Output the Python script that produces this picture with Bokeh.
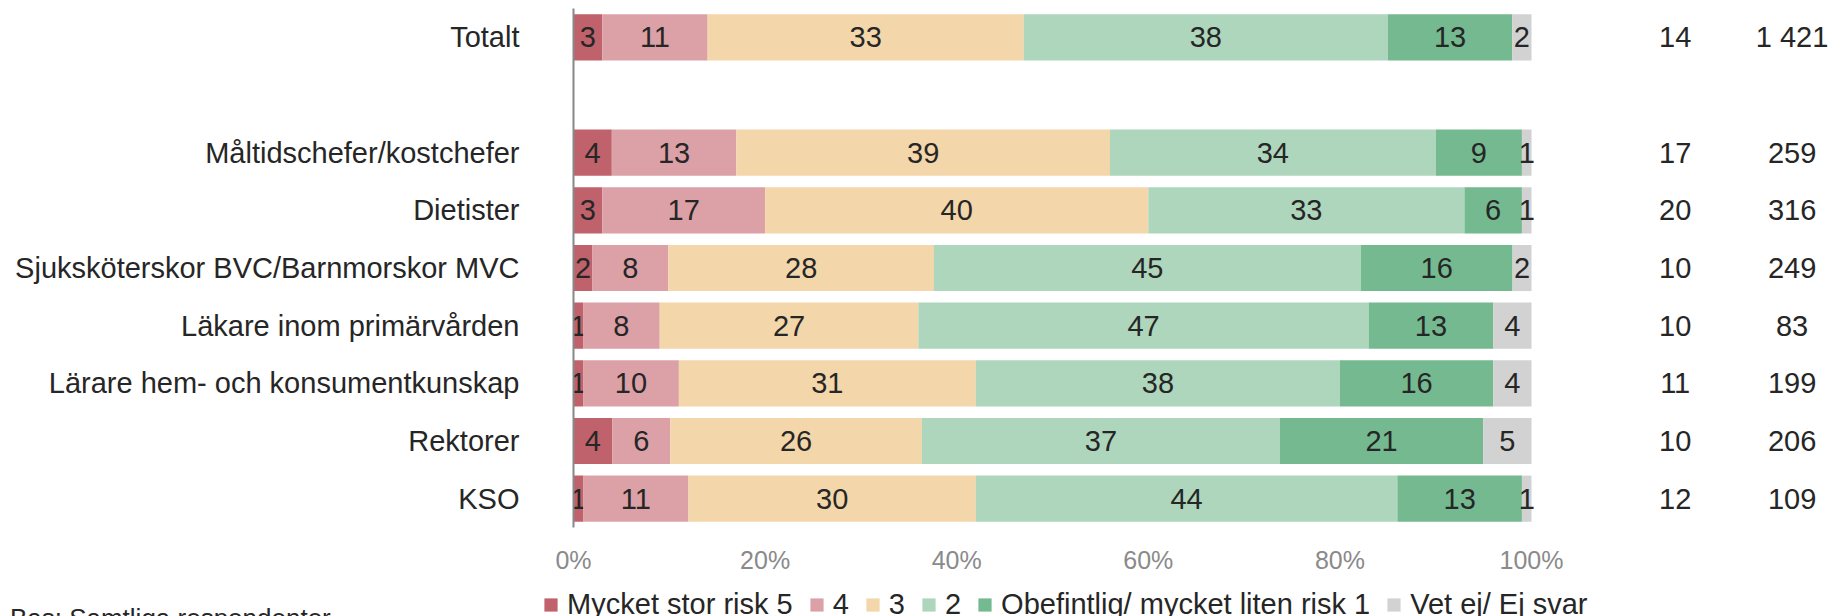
from bokeh.plotting import figure
from bokeh.layouts import column
from bokeh.models import (ColumnDataSource, FactorRange, Range1d, FixedTicker,
                          PrintfTickFormatter, Legend, LegendItem, Label)
from bokeh.core.properties import value
from bokeh.embed import file_html
from bokeh.resources import INLINE

# ---------------- data ----------------
categories = ["Totalt", " ", "Måltidschefer/kostchefer", "Dietister",
              "Sjuksköterskor BVC/Barnmorskor MVC", "Läkare inom primärvården",
              "Lärare hem- och konsumentkunskap", "Rektorer", "KSO"]
groups = ["Totalt", "Måltidschefer/kostchefer", "Dietister",
          "Sjuksköterskor BVC/Barnmorskor MVC", "Läkare inom primärvården",
          "Lärare hem- och konsumentkunskap", "Rektorer", "KSO"]
series_names = ["Mycket stor risk 5", "4", "3", "2",
                "Obefintlig/ mycket liten risk 1", "Vet ej/ Ej svar"]
risk5 = [3, 4, 3, 2, 1, 1, 4, 1]
risk4 = [11, 13, 17, 8, 8, 10, 6, 11]
risk3 = [33, 39, 40, 28, 27, 31, 26, 30]
risk2 = [38, 34, 33, 45, 47, 38, 37, 44]
risk1 = [13, 9, 6, 16, 13, 16, 21, 13]
vet_ej = [2, 1, 1, 2, 4, 4, 5, 1]
stor_risk = ["14", "17", "20", "10", "10", "11", "10", "12"]
antal = ["1 421", "259", "316", "249", "83", "199", "206", "109"]
tick_values = [0, 20, 40, 60, 80, 100]
footnote = "Bas: Samtliga respondenter"

colors = ["#C0626B", "#DBA1A7", "#F3D6AA", "#AED6BC", "#74B990", "#D2D2D2"]
FONT = "Liberation Sans"
TXT = "#262626"

series = [risk5, risk4, risk3, risk2, risk1, vet_ej]

W = 1843
H1 = 580
H2 = 36

p = figure(width=W, height=H1,
           y_range=FactorRange(*reversed(categories)),
           x_range=Range1d(0, 100 * (W - 573) / 958),
           output_backend="svg", toolbar_location=None,
           min_border_left=573, min_border_right=0,
           min_border_top=8, min_border_bottom=H1 - 8 - 519)
p.frame_align = False
p.outline_line_color = None
p.xgrid.visible = False
p.ygrid.visible = False
p.background_fill_color = "white"
p.border_fill_color = "white"

# stacked, normalised to 100 %
totals = [sum(s[i] for s in series) for i in range(len(groups))]
left = [0.0] * len(groups)
for k, s in enumerate(series):
    shares = [s[i] / totals[i] * 100 for i in range(len(groups))]
    right = [left[i] + shares[i] for i in range(len(groups))]
    src = ColumnDataSource(dict(y=groups, left=left, right=right,
                                mid=[(left[i] + right[i]) / 2 for i in range(len(groups))],
                                lab=[str(v) for v in s]))
    p.hbar(y="y", left="left", right="right", height=0.8, source=src,
           fill_color=colors[k], line_color=None)
    p.text(x="mid", y="y", text="lab", source=src, text_align="center",
           text_baseline="middle", text_font=value(FONT),
           text_font_size="29px", text_color=TXT)
    left = right

# right-hand columns
src2 = ColumnDataSource(dict(y=groups, a=stor_risk, b=antal))
p.text(x=115.0, y="y", text="a", source=src2, text_align="center",
       text_baseline="middle", text_font=value(FONT), text_font_size="29px",
       text_color=TXT)
p.text(x=127.2, y="y", text="b", source=src2, text_align="center",
       text_baseline="middle", text_font=value(FONT), text_font_size="29px",
       text_color=TXT)

# axes
p.yaxis.axis_line_color = "#888888"
p.yaxis.axis_line_width = 2
p.yaxis.major_tick_line_color = None
p.yaxis.minor_tick_line_color = None
p.yaxis.major_tick_out = 0
p.yaxis.major_tick_in = 0
p.yaxis.major_label_standoff = 54
p.yaxis.major_label_text_font = FONT
p.yaxis.major_label_text_font_size = "29px"
p.yaxis.major_label_text_color = TXT

p.xaxis.ticker = FixedTicker(ticks=tick_values)
p.xaxis.formatter = PrintfTickFormatter(format="%d%%")
p.xaxis.axis_line_color = None
p.xaxis.major_tick_line_color = None
p.xaxis.minor_tick_line_color = None
p.xaxis.major_tick_out = 0
p.xaxis.major_tick_in = 0
p.xaxis.major_label_standoff = 18
p.xaxis.major_label_text_font = FONT
p.xaxis.major_label_text_font_size = "25px"
p.xaxis.major_label_text_color = "#8A8A8A"

# ---------------- legend strip ----------------
p2 = figure(width=W, height=H2, x_range=Range1d(0, W), y_range=Range1d(0, H2),
            output_backend="svg", toolbar_location=None,
            x_axis_location=None, y_axis_location=None,
            min_border_left=0, min_border_right=0,
            min_border_top=0, min_border_bottom=0)
p2.frame_align = False
p2.outline_line_color = None
p2.xgrid.visible = False
p2.ygrid.visible = False
p2.background_fill_color = "white"
p2.border_fill_color = "white"

nan = float("nan")
items = []
for k, name in enumerate(series_names):
    # legend key only: a point without position, so nothing is drawn in the strip
    r = p2.scatter(x=[nan], y=[nan], marker="square", fill_color=colors[k],
                   line_color=None)
    items.append(LegendItem(label=name, renderers=[r]))
legend = Legend(items=items, location=(534.1, -4.5), orientation="horizontal",
                glyph_width=33, glyph_height=33, label_standoff=-4, spacing=7,
                label_width=0, padding=0, margin=0, border_line_color=None,
                background_fill_alpha=0, label_text_font=FONT,
                label_text_font_size="29px", label_text_color=TXT)
p2.add_layout(legend)

p2.add_layout(Label(x=9.4, y=-1.6, x_units="screen", y_units="screen",
                    text=footnote, text_font=FONT,
                    text_font_size="26px", text_baseline="alphabetic",
                    text_color=TXT))

layout = column(p, p2, spacing=0)
open("out.html", "w").write(file_html(layout, INLINE))
